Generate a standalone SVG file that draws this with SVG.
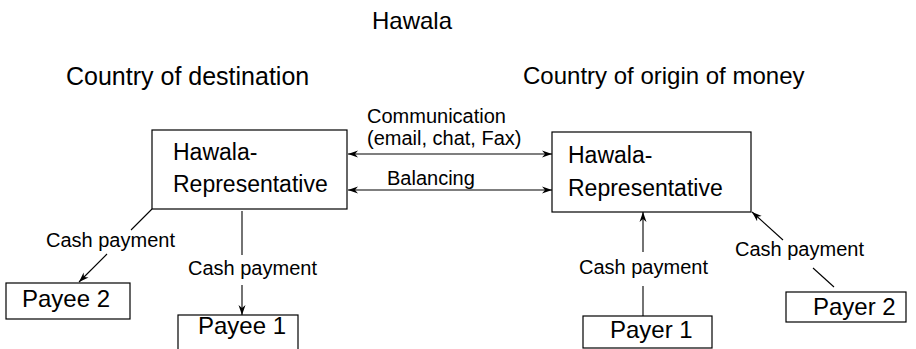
<svg xmlns="http://www.w3.org/2000/svg" width="916" height="349" viewBox="0 0 916 349">
<style>
text{font-family:"Liberation Sans",Arial,sans-serif;fill:#000}
.t25{font-size:25px}
.t24{font-size:24px}
.t23{font-size:23px}
.t20{font-size:20px}
.box{fill:#fff;stroke:#000;stroke-width:1.2}
.ln{fill:none;stroke:#000;stroke-width:1.1}
.arr{marker-end:url(#ah)}
.dbl{marker-start:url(#ah);marker-end:url(#ah)}
</style>
<defs>
<marker id="ah" markerUnits="userSpaceOnUse" markerWidth="10" markerHeight="8" viewBox="0 0 10 8" refX="10" refY="4" orient="auto-start-reverse">
<path d="M0,0.5 L10,4 L0,7.5 L3,4 z" fill="#000"/>
</marker>
</defs>
<g id="titles">
<text class="t24" x="372" y="29">Hawala</text>
<text class="t25" x="66" y="85">Country of destination</text>
<text class="t24" x="523" y="84">Country of origin of money</text>
</g>
<g id="rep-dest">
<rect class="box" x="152" y="130" width="195" height="79"/>
<text class="t23" x="173" y="160">Hawala-</text>
<text class="t23" x="173" y="192">Representative</text>
</g>
<g id="rep-origin">
<rect class="box" x="552" y="132" width="199" height="80"/>
<text class="t23" x="568" y="163">Hawala-</text>
<text class="t23" x="568" y="196">Representative</text>
</g>
<g id="payee2">
<rect class="box" x="6" y="283" width="124" height="36"/>
<text class="t24" x="22" y="307">Payee 2</text>
</g>
<g id="payee1">
<rect class="box" x="178" y="315" width="120" height="40"/>
<text class="t24" x="198" y="334">Payee 1</text>
</g>
<g id="payer1">
<rect class="box" x="583" y="316" width="129" height="32"/>
<text class="t24" x="610" y="338">Payer 1</text>
</g>
<g id="payer2">
<rect class="box" x="786" y="292" width="120" height="30"/>
<text class="t24" x="813" y="315">Payer 2</text>
</g>
<g id="connectors">
<line class="ln dbl" x1="348" y1="154" x2="552" y2="154"/>
<line class="ln dbl" x1="348" y1="190" x2="552" y2="190"/>
<line class="ln" x1="152" y1="209" x2="131" y2="230"/>
<line class="ln arr" x1="107" y1="254" x2="79" y2="282"/>
<line class="ln" x1="242" y1="211" x2="242" y2="255"/>
<line class="ln arr" x1="242" y1="285" x2="242" y2="315"/>
<line class="ln" x1="643" y1="316" x2="643" y2="286"/>
<line class="ln arr" x1="643" y1="252" x2="643" y2="212"/>
<line class="ln" x1="834" y1="287" x2="813" y2="268"/>
<line class="ln arr" x1="783" y1="240" x2="752" y2="212"/>
</g>
<g id="labels">
<text class="t20" x="367" y="123">Communication</text>
<text class="t20" x="367" y="145">(email, chat, Fax)</text>
<text class="t20" x="387" y="185">Balancing</text>
<text class="t20" x="46" y="247">Cash payment</text>
<text class="t20" x="188" y="275">Cash payment</text>
<text class="t20" x="579" y="274">Cash payment</text>
<text class="t20" x="735" y="256">Cash payment</text>
</g>
</svg>
